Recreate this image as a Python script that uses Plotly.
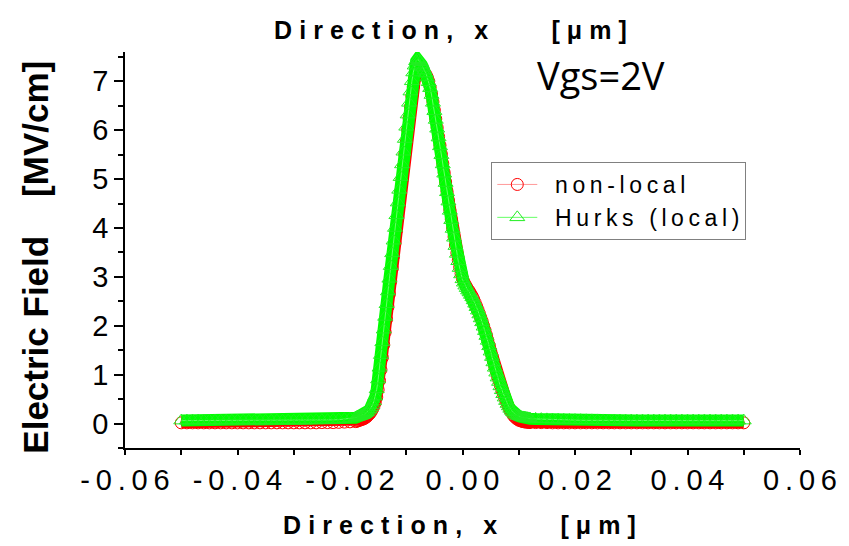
import plotly.graph_objects as go

# ---------------- data ----------------
x_left = [-0.050, -0.049, -0.048, -0.047, -0.046, -0.045, -0.044, -0.043,
          -0.042, -0.041, -0.040, -0.039, -0.038, -0.037, -0.036, -0.035,
          -0.034, -0.033, -0.032, -0.031, -0.030, -0.029, -0.028, -0.027,
          -0.026, -0.025, -0.024, -0.023, -0.022, -0.021, -0.020]
x_peak = [-0.019, -0.01875, -0.0185, -0.01825, -0.018, -0.01775, -0.0175, -0.01725,
          -0.017, -0.01675, -0.0165, -0.01625, -0.016, -0.01575, -0.0155, -0.01525,
          -0.015, -0.01475, -0.0145, -0.01425, -0.014, -0.01375, -0.0135, -0.01325,
          -0.013, -0.01275, -0.0125, -0.01225, -0.012, -0.01175, -0.0115, -0.01125,
          -0.011, -0.01075, -0.0105, -0.01025, -0.010, -0.00975, -0.0095, -0.00925,
          -0.009, -0.00875, -0.0085, -0.00825, -0.008, -0.00775, -0.0075, -0.00725,
          -0.007, -0.00675, -0.0065, -0.00625, -0.006, -0.00575, -0.0055, -0.00525,
          -0.005, -0.00475, -0.0045, -0.00425, -0.004, -0.00375, -0.0035, -0.00325,
          -0.003, -0.00275, -0.0025, -0.00225, -0.002, -0.00175, -0.0015, -0.00125,
          -0.001, -0.00075, -0.0005, -0.00025, 0.0, 0.00025, 0.0005, 0.00075,
          0.001, 0.00125, 0.0015, 0.00175, 0.002, 0.00225, 0.0025, 0.00275,
          0.003, 0.00325, 0.0035, 0.00375, 0.004, 0.00425, 0.0045, 0.00475,
          0.005, 0.00525, 0.0055, 0.00575, 0.006, 0.00625, 0.0065, 0.00675,
          0.007, 0.00725, 0.0075, 0.00775, 0.008, 0.00825, 0.0085, 0.00875,
          0.009, 0.00925, 0.0095, 0.00975, 0.010, 0.01025, 0.0105, 0.01075,
          0.011, 0.01125, 0.0115, 0.01175, 0.012]
x_right = [0.013, 0.014, 0.015, 0.016, 0.017, 0.018, 0.019, 0.020,
           0.021, 0.022, 0.023, 0.024, 0.025, 0.026, 0.027, 0.028,
           0.029, 0.030, 0.031, 0.032, 0.033, 0.034, 0.035, 0.036,
           0.037, 0.038, 0.039, 0.040, 0.041, 0.042, 0.043, 0.044,
           0.045, 0.046, 0.047, 0.048, 0.049, 0.050]

# Hurks (local) model, MV/cm
hurks_left = [0.06, 0.06, 0.06, 0.06, 0.06, 0.06, 0.06, 0.06,
              0.06, 0.06, 0.06, 0.06, 0.06, 0.06, 0.06, 0.06,
              0.06, 0.06, 0.06, 0.06, 0.06, 0.06, 0.06, 0.065,
              0.065, 0.07, 0.07, 0.075, 0.08, 0.09, 0.10]
hurks_peak = [0.12, 0.13, 0.14, 0.15, 0.16, 0.17, 0.19, 0.21,
              0.23, 0.26, 0.29, 0.33, 0.38, 0.45, 0.55, 0.70,
              0.90, 1.14, 1.40, 1.66, 1.92, 2.18, 2.44, 2.70,
              2.96, 3.22, 3.48, 3.74, 4.00, 4.26, 4.52, 4.78,
              5.04, 5.30, 5.56, 5.82, 6.07, 6.32, 6.56, 6.79,
              7.00, 7.18, 7.32, 7.41, 7.45, 7.43, 7.39, 7.34,
              7.28, 7.22, 7.16, 7.08, 6.98, 6.86, 6.72, 6.56,
              6.39, 6.21, 6.03, 5.85, 5.67, 5.49, 5.30, 5.11,
              4.92, 4.73, 4.54, 4.35, 4.16, 3.98, 3.80, 3.63,
              3.47, 3.32, 3.18, 3.05, 2.95, 2.88, 2.82, 2.77,
              2.72, 2.68, 2.63, 2.58, 2.52, 2.45, 2.38, 2.31,
              2.23, 2.15, 2.07, 1.98, 1.89, 1.79, 1.69, 1.58,
              1.47, 1.36, 1.25, 1.14, 1.04, 0.94, 0.85, 0.76,
              0.68, 0.60, 0.53, 0.46, 0.40, 0.35, 0.30, 0.26,
              0.23, 0.20, 0.18, 0.165, 0.15, 0.14, 0.13, 0.125,
              0.12, 0.115, 0.11, 0.105, 0.10]
hurks_right = [0.095, 0.09, 0.085, 0.08, 0.078, 0.075, 0.072, 0.07,
               0.068, 0.066, 0.065, 0.064, 0.063, 0.062, 0.061, 0.06,
               0.06, 0.06, 0.06, 0.06, 0.06, 0.06, 0.06, 0.06,
               0.06, 0.06, 0.06, 0.06, 0.06, 0.06, 0.06, 0.06,
               0.06, 0.06, 0.06, 0.06, 0.06, 0.06]

# non-local model, MV/cm
nonlocal_left = [0.015, 0.015, 0.015, 0.015, 0.015, 0.015, 0.015, 0.015,
                 0.015, 0.015, 0.015, 0.015, 0.015, 0.015, 0.015, 0.015,
                 0.015, 0.015, 0.015, 0.015, 0.015, 0.015, 0.015, 0.015,
                 0.015, 0.02, 0.02, 0.02, 0.025, 0.03, 0.035]
nonlocal_peak = [0.04, 0.05, 0.06, 0.07, 0.08, 0.09, 0.10, 0.12,
                 0.14, 0.17, 0.20, 0.24, 0.29, 0.35, 0.43, 0.54,
                 0.69, 0.88, 1.10, 1.35, 1.61, 1.87, 2.13, 2.39,
                 2.65, 2.91, 3.17, 3.43, 3.69, 3.95, 4.21, 4.47,
                 4.73, 4.99, 5.25, 5.51, 5.76, 6.01, 6.25, 6.48,
                 6.70, 6.89, 7.05, 7.17, 7.25, 7.29, 7.29, 7.26,
                 7.22, 7.18, 7.14, 7.08, 7.00, 6.88, 6.74, 6.58,
                 6.41, 6.23, 6.05, 5.87, 5.69, 5.51, 5.32, 5.13,
                 4.94, 4.75, 4.56, 4.37, 4.18, 4.00, 3.82, 3.65,
                 3.49, 3.34, 3.20, 3.07, 2.97, 2.90, 2.84, 2.79,
                 2.74, 2.70, 2.65, 2.60, 2.54, 2.47, 2.40, 2.33,
                 2.25, 2.17, 2.09, 2.00, 1.91, 1.81, 1.71, 1.60,
                 1.49, 1.38, 1.27, 1.16, 1.06, 0.96, 0.87, 0.78,
                 0.69, 0.61, 0.53, 0.46, 0.39, 0.33, 0.27, 0.22,
                 0.17, 0.14, 0.11, 0.09, 0.07, 0.06, 0.05, 0.04,
                 0.035, 0.03, 0.03, 0.025, 0.02]
nonlocal_right = [0.02, 0.02, 0.02, 0.015, 0.015, 0.015, 0.015, 0.015,
                  0.015, 0.015, 0.015, 0.015, 0.015, 0.015, 0.015, 0.015,
                  0.015, 0.015, 0.015, 0.015, 0.015, 0.015, 0.015, 0.015,
                  0.015, 0.015, 0.015, 0.015, 0.015, 0.015, 0.015, 0.015,
                  0.015, 0.015, 0.015, 0.015, 0.015, 0.015]

x_ticks = [-0.06, -0.04, -0.02, 0.00, 0.02, 0.04, 0.06]
x_tick_labels = ["-0.06", "-0.04", "-0.02", "0.00", "0.02", "0.04", "0.06"]
y_ticks = [0, 1, 2, 3, 4, 5, 6, 7]

series_names = ["non-local", "Hurks (local)"]
title_text = "Direction, x    [\u03bcm]"
y_title_text = "Electric Field    [MV/cm]"
note_text = "Vgs=2V"

# ---------------- helpers ----------------
TS = "\u2009"   # thin space (letter spacing)
HS = "\u200a"   # hair space


def spaced(s, sep=TS):
    return sep.join(list(s))


x_all = x_left + x_peak + x_right
nonlocal_all = nonlocal_left + nonlocal_peak + nonlocal_right
hurks_all = hurks_left + hurks_peak + hurks_right

W, H = 849, 546
L, R, T, B = 125, 44, 52, 98
PW, PH = W - L - R, H - T - B


def px(xp):
    return (xp - L) / PW


def py(yp):
    return (H - B - yp) / PH


RED, GREEN = "#ff0000", "#00ff00"
fig = go.Figure()
# dense overlapping symbols form a thick band in the original; drawn as wide line under the markers
fig.add_trace(go.Scatter(x=x_all, y=nonlocal_all, mode="lines", showlegend=False, hoverinfo="skip",
                         line=dict(color=RED, width=11)))
fig.add_trace(go.Scatter(
    x=x_all, y=nonlocal_all, name="  " + spaced(series_names[0]), mode="lines+markers",
    line=dict(color="#ff9a9a", width=1),
    marker=dict(symbol="circle-open", size=12, color=RED, line=dict(width=1, color=RED)),
))
fig.add_trace(go.Scatter(x=x_all, y=hurks_all, mode="lines", showlegend=False, hoverinfo="skip",
                         line=dict(color=GREEN, width=12)))
fig.add_trace(go.Scatter(
    x=x_all, y=hurks_all, name="  " + spaced(series_names[1]), mode="lines+markers",
    line=dict(color="#66ff66", width=1),
    marker=dict(symbol="triangle-up-open", size=13, color="#22ee22", line=dict(width=1, color="#22ee22")),
))

fig.update_layout(
    width=W, height=H,
    margin=dict(l=L, r=R, t=T, b=B),
    paper_bgcolor="white", plot_bgcolor="white",
    font=dict(family="Liberation Sans, Arial, sans-serif", color="black"),
    showlegend=True,
    legend=dict(
        x=px(494), y=py(162), xanchor="left", yanchor="top",
        bordercolor="#808080", borderwidth=1, bgcolor="rgba(255,255,255,0)",
        font=dict(family="Liberation Sans, Arial, sans-serif", size=23, color="black"),
        itemwidth=40, tracegroupgap=0,
    ),
)

fig.update_xaxes(
    range=[-0.06, 0.06], tickvals=x_ticks, ticktext=[spaced(t) for t in x_tick_labels],
    showline=True, linecolor="black", linewidth=1.5, mirror=False,
    ticks="outside", ticklen=5, tickwidth=1.5, tickcolor="black",
    minor=dict(dtick=0.01, ticks="outside", ticklen=5, tickwidth=1.5, tickcolor="black", showgrid=False),
    showgrid=False, zeroline=False,
    tickfont=dict(family="Liberation Sans, Arial, sans-serif", size=29, color="black"),
)
fig.update_yaxes(
    range=[-0.5, 7.6], tickvals=y_ticks,
    showline=True, linecolor="black", linewidth=1.5, mirror=False,
    ticks="outside", ticklen=9, tickwidth=1.5, tickcolor="black",
    minor=dict(dtick=0.5, ticks="outside", ticklen=5, tickwidth=1.5, tickcolor="black", showgrid=False),
    showgrid=False, zeroline=False,
    tickfont=dict(family="Liberation Sans, Arial, sans-serif", size=29, color="black"),
)

title_font = dict(family="Liberation Sans, Arial, sans-serif", size=25, color="black", weight="bold")
title_spaced = spaced(title_text, TS + HS)
fig.add_annotation(text=title_spaced, xref="paper", yref="paper",
                   x=px(453), y=py(30), xanchor="center", yanchor="middle",
                   showarrow=False, font=title_font)
fig.add_annotation(text=title_spaced, xref="paper", yref="paper",
                   x=px(462), y=py(525), xanchor="center", yanchor="middle",
                   showarrow=False, font=title_font)
fig.add_annotation(text=y_title_text, xref="paper", yref="paper",
                   x=px(34), y=py(257), xanchor="center", yanchor="middle", textangle=-90,
                   showarrow=False,
                   font=dict(family="Liberation Sans, Arial, sans-serif", size=35, color="black", weight="bold"))
fig.add_annotation(text=note_text, xref="paper", yref="paper",
                   x=px(605), y=py(75), xanchor="center", yanchor="middle",
                   showarrow=False,
                   font=dict(family="Open Sans, sans-serif", size=38, color="black"))

fig.write_html("out.html")
